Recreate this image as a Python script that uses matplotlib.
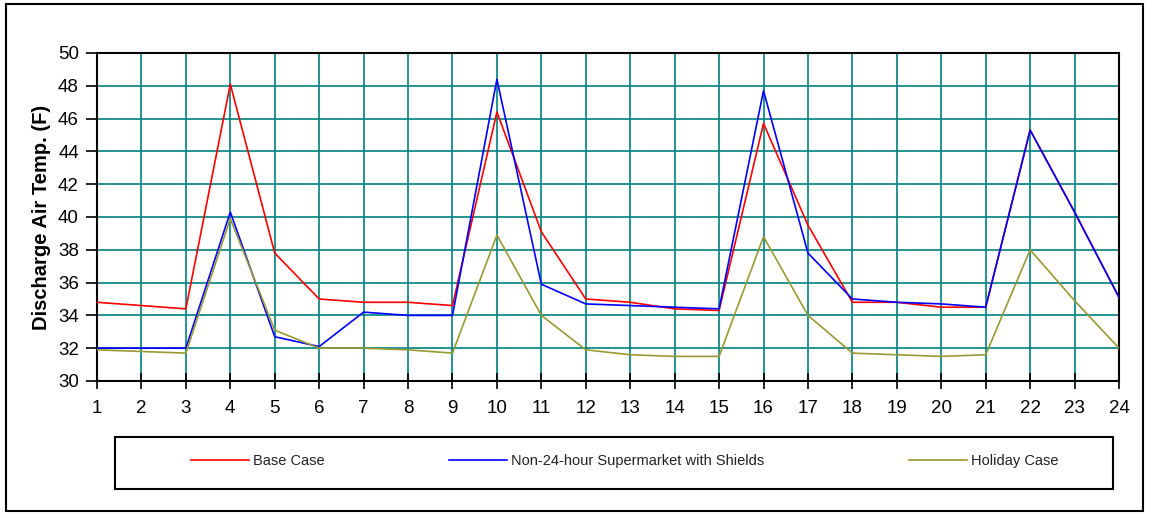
import matplotlib
matplotlib.use("Agg")
import matplotlib.pyplot as plt
from matplotlib.patches import Rectangle

hours = list(range(1, 25))

base_case = [34.8, 34.6, 34.4, 48.1, 37.8, 35.0, 34.8, 34.8, 34.6, 46.4, 39.1, 35.0,
             34.8, 34.4, 34.3, 45.7, 39.5, 34.8, 34.8, 34.5, 34.5, 45.3, 40.3, 35.1]
shields = [32.0, 32.0, 32.0, 40.3, 32.7, 32.1, 34.2, 34.0, 34.0, 48.4, 35.9, 34.7,
           34.6, 34.5, 34.4, 47.7, 37.8, 35.0, 34.8, 34.7, 34.5, 45.3, 40.3, 35.1]
holiday = [31.9, 31.8, 31.7, 39.9, 33.1, 32.0, 32.0, 31.9, 31.7, 38.9, 34.0, 31.9,
           31.6, 31.5, 31.5, 38.8, 34.0, 31.7, 31.6, 31.5, 31.6, 38.0, 34.9, 32.0]

series_names = ["Base Case", "Non-24-hour Supermarket with Shields", "Holiday Case"]
colors = ["#ff0000", "#0000ff", "#999933"]

plt.rcParams['font.family'] = ['Liberation Sans', 'DejaVu Sans']

fig = plt.figure(figsize=(11.52, 5.18), dpi=100)
W, H = 1152, 518
ax = fig.add_axes([97 / W, 1 - 381 / H, (1119 - 97) / W, (381 - 53) / H])

lines = []
for vals, name, c in zip([base_case, shields, holiday], series_names, colors):
    ln, = ax.plot(hours, vals, color=c, lw=1.2, label=name, zorder=3)
    lines.append(ln)

ax.set_xlim(1, 24)
ax.set_ylim(30, 50)
ax.set_xticks(hours)
ax.set_yticks(range(30, 51, 2))
ax.grid(True, color="#008080", lw=1.2, zorder=1)
ax.tick_params(axis="x", direction="inout", length=12, width=1.2, labelsize=13.5, pad=8)
ax.tick_params(axis="y", direction="out", length=8, width=1.2, labelsize=13.5, pad=5)
for s in ax.spines.values():
    s.set_linewidth(1.5)
ax.set_ylabel("Discharge Air Temp. (F)", fontsize=14.5, fontweight="bold", labelpad=5)

# outer border and legend box
fig.patches.append(Rectangle((6 / W, 1 - 511 / H), (1143 - 6) / W, (511 - 4) / H,
                             transform=fig.transFigure, fill=False, ec="black", lw=1.5))
fig.patches.append(Rectangle((115 / W, 1 - 489 / H), (1113 - 115) / W, (489 - 437) / H,
                             transform=fig.transFigure, fill=False, ec="black", lw=1.5))

# one legend per entry so each sits where the original has it
for ln, x0 in zip(lines, [184, 442, 902]):
    leg = fig.legend(handles=[ln], loc="center left", bbox_to_anchor=(x0 / W, 1 - 461 / H),
                     frameon=False, borderpad=0, handlelength=3.95, handletextpad=0.3,
                     fontsize=10.5)
    for t in leg.get_texts():
        t.set_color("#222222")

fig.savefig("out.png", dpi=100)
